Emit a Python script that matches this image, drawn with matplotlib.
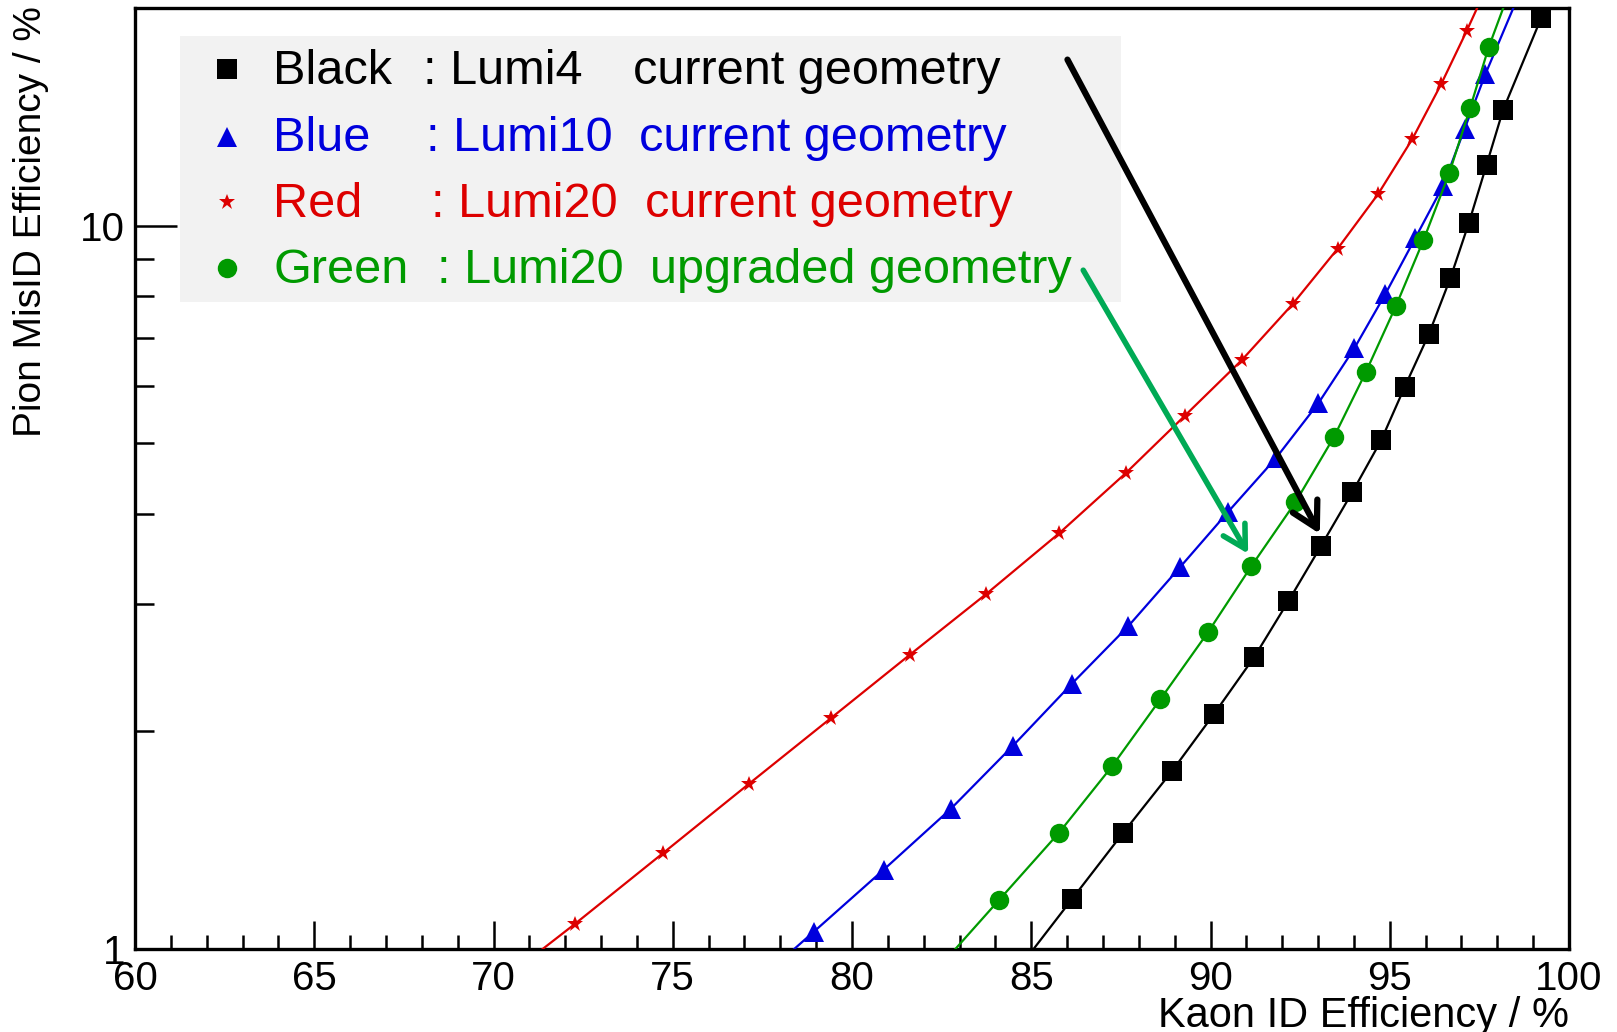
import matplotlib
matplotlib.use("Agg")
import matplotlib.pyplot as plt
from matplotlib.patches import Rectangle
from matplotlib.ticker import FixedLocator, FuncFormatter, NullFormatter

plt.rcParams['font.family'] = ['Liberation Sans', 'DejaVu Sans']

# data (first / last point of each series lies outside the frame)
black_x = [84.69, 86.13, 87.57, 88.92, 90.10, 91.22, 92.17, 93.09, 93.96, 94.76,
           95.42, 96.09, 96.69, 97.21, 97.70, 98.16, 99.22, 99.6]
black_y = [0.946, 1.171, 1.449, 1.760, 2.114, 2.533, 3.025, 3.613, 4.285, 5.05,
           5.99, 7.08, 8.46, 10.10, 12.14, 14.45, 19.35, 22.0]

blue_x = [77.0, 78.94, 80.89, 82.76, 84.49, 86.13, 87.71, 89.15, 90.50, 91.83,
          93.01, 94.01, 94.88, 95.71, 96.49, 97.09, 97.67, 98.8]
blue_y = [0.87, 1.057, 1.288, 1.563, 1.910, 2.326, 2.796, 3.372, 4.026, 4.775,
          5.684, 6.766, 8.05, 9.61, 11.36, 13.62, 16.21, 22.0]

red_x = [69.8, 72.26, 74.73, 77.12, 79.42, 81.61, 83.74, 85.78, 87.63, 89.29,
         90.88, 92.29, 93.55, 94.68, 95.63, 96.43, 97.15, 97.8]
red_y = [0.87, 1.082, 1.357, 1.691, 2.087, 2.551, 3.095, 3.757, 4.546, 5.465,
         6.525, 7.79, 9.30, 11.07, 13.18, 15.68, 18.61, 21.9]

green_x = [82.4, 84.09, 85.78, 87.25, 88.60, 89.93, 91.14, 92.37, 93.44, 94.33,
           95.17, 95.94, 96.66, 97.24, 97.76, 98.4]
green_y = [0.94, 1.167, 1.449, 1.788, 2.214, 2.741, 3.383, 4.147, 5.100, 6.27,
           7.74, 9.55, 11.82, 14.54, 17.65, 21.5]

names = ["Black", "Blue", "Red", "Green"]
lumis = [": Lumi4", ": Lumi10", ": Lumi20", ": Lumi20"]
geoms = ["current geometry", "current geometry", "current geometry", "upgraded geometry"]
colors = ["black", "#0000dd", "#dd0000", "#009a00"]
markers = ["s", "^", "*", "o"]
msizes = [14, 15, 12, 14]

W, H = 1617, 1032
fig = plt.figure(figsize=(W / 100, H / 100), dpi=100)
ax = fig.add_axes([135 / W, 1 - 949 / H, (1569 - 135) / W, (949 - 8) / H])

def fx(px):
    return px / W

def fy(py):
    return 1 - py / H

series = [(black_x, black_y), (blue_x, blue_y), (red_x, red_y), (green_x, green_y)]
for (xs, ys), c, m, ms in zip(series, colors, markers, msizes):
    ax.plot(xs, ys, color=c, lw=1.6, marker=m, markersize=ms,
            markeredgewidth=0, zorder=3)

ax.set_yscale('log')
ax.set_xlim(60, 100)
ax.set_ylim(1, 20)

ax.xaxis.set_major_locator(FixedLocator(range(60, 101, 5)))
ax.xaxis.set_minor_locator(FixedLocator(range(60, 101)))
ax.yaxis.set_major_locator(FixedLocator([1, 10]))
ax.yaxis.set_minor_locator(FixedLocator([2, 3, 4, 5, 6, 7, 8, 9, 20]))
ax.yaxis.set_major_formatter(FuncFormatter(lambda v, p: "%g" % v))
ax.yaxis.set_minor_formatter(NullFormatter())

ax.tick_params(which='both', direction='in', top=False, right=False, width=1.8)
ax.tick_params(which='major', labelsize=29)
ax.tick_params(axis='x', which='major', length=20, pad=8)
ax.tick_params(axis='x', which='minor', length=10)
ax.tick_params(axis='y', which='major', length=30, pad=7)
ax.tick_params(axis='y', which='minor', length=14)
for s in ax.spines.values():
    s.set_linewidth(2.4)

fig.text(fx(31), fy(6), "Pion MisID Efficiency / %", rotation=90,
         ha='center', va='top', fontsize=28)
fig.text(fx(1569), fy(1027), "Kaon ID Efficiency / %", ha='right',
         va='baseline', fontsize=30)

# legend box
ax.add_patch(Rectangle((fx(180), fy(302)), fx(1121) - fx(180), fy(36) - fy(302),
                       transform=fig.transFigure, facecolor='#f2f2f2',
                       edgecolor='none', zorder=1.5))
row_y = [84, 151, 217, 283]
mark_y = [69, 137, 202, 268]
lumi_x = [423, 426, 431, 437]
geom_x = [633, 639, 645, 650]
for i in range(4):
    ax.plot([fx(227)], [fy(mark_y[i])], transform=fig.transFigure,
            marker=markers[i], color=colors[i], markersize=msizes[i],
            markeredgewidth=0, zorder=4, clip_on=False)
    fig.text(fx(273), fy(row_y[i]), names[i], color=colors[i], fontsize=35,
             va='baseline', zorder=4)
    fig.text(fx(lumi_x[i]), fy(row_y[i]), lumis[i], color=colors[i], fontsize=35,
             va='baseline', zorder=4)
    fig.text(fx(geom_x[i]), fy(row_y[i]), geoms[i], color=colors[i], fontsize=35,
             va='baseline', zorder=4)

# arrows
ax.annotate('', xy=(93.05, 3.75), xytext=(86.01, 16.97),
            arrowprops=dict(arrowstyle='->,head_length=0.9,head_width=0.5',
                            color='black', lw=4.5, mutation_scale=20,
                            shrinkA=0, shrinkB=0), zorder=6)
ax.annotate('', xy=(91.05, 3.52), xytext=(86.45, 8.68),
            arrowprops=dict(arrowstyle='->,head_length=0.8,head_width=0.45',
                            color='#00aa55', lw=4, mutation_scale=20,
                            shrinkA=0, shrinkB=0), zorder=6)

fig.savefig("out.png", dpi=100)
